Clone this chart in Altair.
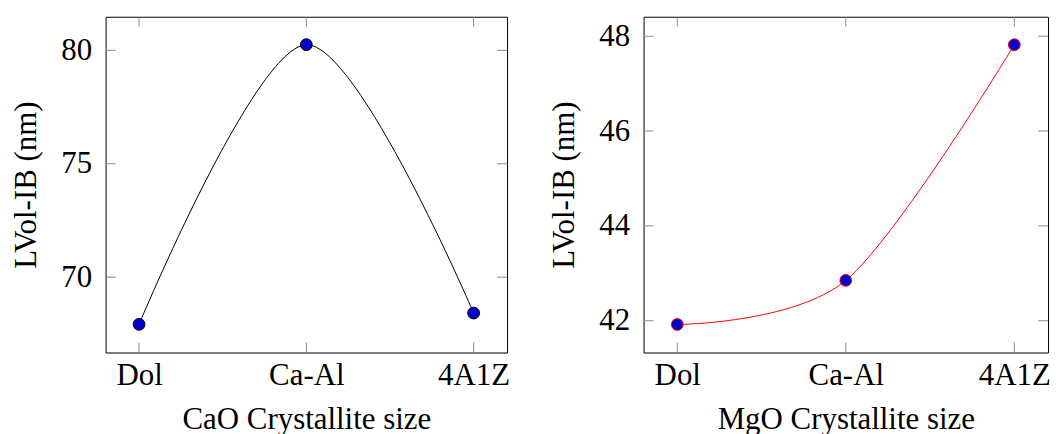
import altair as alt
import pandas as pd

# Samples on the x axis
categories = ["Dol", "Ca-Al", "4A1Z"]

# LVol-IB crystallite sizes (nm)
cao_values = [67.92, 80.25, 68.42]
mgo_values = [41.92, 42.85, 47.82]

# Axis settings
cao_ticks = [70, 75, 80]
mgo_ticks = [42, 44, 46, 48]
cao_domain = [66.68, 81.48]
mgo_domain = [41.33, 48.41]

FONT = "Liberation Serif"
FS = 31
H = 337
TICK_LEN = 10
TICK_COLOR = "#8c8c8c"
MARKER_FILL = "#0000cc"


def panel(values, ticks, domain, title, line_color, width):
    df = pd.DataFrame({"sample": categories, "size": values})
    xcats = pd.DataFrame({"sample": categories})
    yticks = pd.DataFrame({"size": ticks})

    x_enc = alt.X(
        "sample:N",
        sort=categories,
        scale=alt.Scale(type="point", padding=0.2),
        axis=alt.Axis(title=title, labelAngle=0, labelPadding=8, titlePadding=14),
    )
    y_enc = alt.Y(
        "size:Q",
        scale=alt.Scale(domain=domain, nice=False, zero=False),
        axis=alt.Axis(title="LVol-IB (nm)", values=ticks, labelPadding=14, titlePadding=18),
    )

    line = alt.Chart(df).mark_line(
        color=line_color, strokeWidth=1, interpolate="cardinal", tension=0.08
    ).encode(x=x_enc, y=y_enc)
    points = alt.Chart(df).mark_point(
        shape="circle", filled=True, size=140, fill=MARKER_FILL,
        stroke=line_color, strokeWidth=1, opacity=1,
    ).encode(x=x_enc, y=y_enc)

    # inward tick marks on all four sides of the frame
    top_ticks = alt.Chart(xcats).mark_rule(color=TICK_COLOR, strokeWidth=1).encode(
        x=x_enc, y=alt.value(0), y2=alt.value(TICK_LEN)
    )
    bottom_ticks = alt.Chart(xcats).mark_rule(color=TICK_COLOR, strokeWidth=1).encode(
        x=x_enc, y=alt.value(H - TICK_LEN), y2=alt.value(H)
    )
    left_ticks = alt.Chart(yticks).mark_rule(color=TICK_COLOR, strokeWidth=1).encode(
        y=y_enc, x=alt.value(0), x2=alt.value(TICK_LEN)
    )
    right_ticks = alt.Chart(yticks).mark_rule(color=TICK_COLOR, strokeWidth=1).encode(
        y=y_enc, x=alt.value(width - TICK_LEN), x2=alt.value(width)
    )

    return alt.layer(
        line, top_ticks, bottom_ticks, left_ticks, right_ticks, points
    ).properties(width=width, height=H)


left = panel(cao_values, cao_ticks, cao_domain, "CaO Crystallite size", "black", 403)
right = panel(mgo_values, mgo_ticks, mgo_domain, "MgO Crystallite size", "red", 406)

chart = (
    alt.hconcat(left, right, spacing=37)
    .properties(
        padding={"left": 10, "top": 15, "right": 5, "bottom": 0},
        background="white",
    )
    .configure_view(stroke="black", strokeWidth=1)
    .configure_axis(
        domain=False,
        ticks=False,
        grid=False,
        labelFont=FONT,
        titleFont=FONT,
        labelFontSize=FS,
        titleFontSize=FS,
        labelColor="black",
        titleColor="black",
        titleFontWeight="normal",
    )
)

chart.save("out.html", embed_options={"renderer": "svg", "actions": False})
